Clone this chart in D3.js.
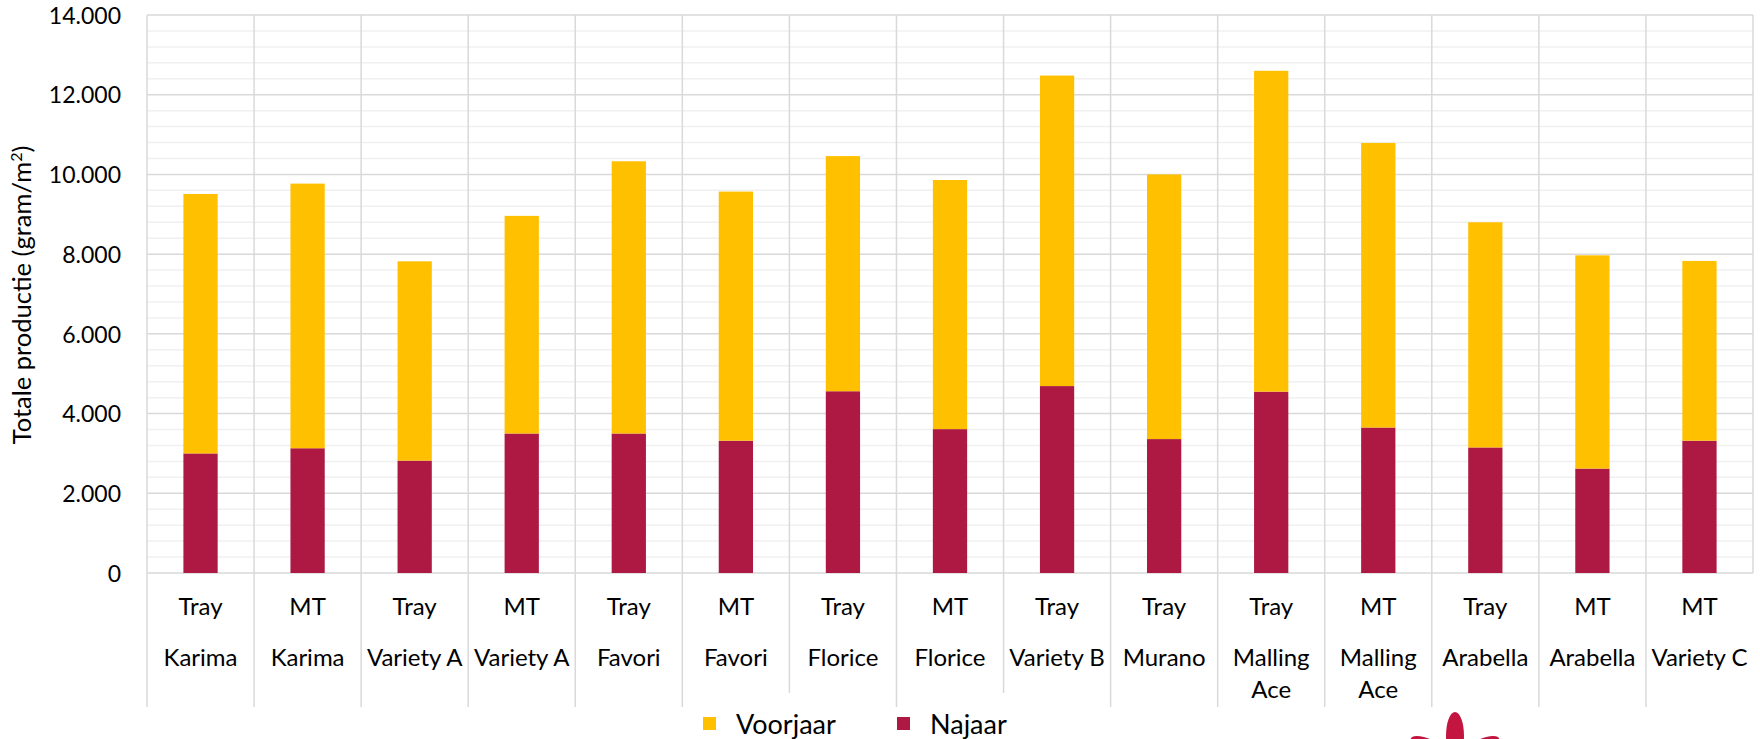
<!DOCTYPE html>
<meta charset="utf-8">
<style>
body { margin: 0; background: #fff; }
svg text { font-family: 'Lato', 'Noto Sans', sans-serif; fill: #000; }
</style>
<svg id="chart" width="1760" height="739"></svg>
<script src="https://cdn.jsdelivr.net/npm/d3@7"></script>
<script>

// data
var methods   = ["Tray", "MT", "Tray", "MT", "Tray", "MT", "Tray", "MT", "Tray", "Tray", "Tray", "MT", "Tray", "MT", "MT"];
var varieties = ["Karima", "Karima", "Variety A", "Variety A", "Favori", "Favori", "Florice", "Florice",
                 "Variety B", "Murano", "Malling Ace", "Malling Ace", "Arabella", "Arabella", "Variety C"];
var najaar    = [3000, 3130, 2820, 3500, 3500, 3320, 4560, 3610, 4690, 3360, 4550, 3650, 3150, 2620, 3320];
var totaal    = [9510, 9770, 7820, 8960, 10330, 9570, 10460, 9860, 12480, 10000, 12600, 10790, 8800, 7970, 7830];
var voorjaar  = totaal.map(function(t, i) { return t - najaar[i]; });
var yTicks    = [0, 2000, 4000, 6000, 8000, 10000, 12000, 14000];
var seriesNames = ["Voorjaar", "Najaar"];

var colors = { Voorjaar: "#ffc000", Najaar: "#ad1942" };

var svg = d3.select("#chart");
var margin = {top: 15, right: 7, bottom: 166, left: 147},
    width = 1760 - margin.left - margin.right,
    height = 739 - margin.top - margin.bottom;

var g = svg.append("g").attr("transform", "translate(" + margin.left + "," + margin.top + ")");

var idx = d3.range(methods.length);
var x = d3.scaleBand().domain(idx).range([0, width]).paddingInner(0).paddingOuter(0);
var y = d3.scaleLinear().domain([0, 14000]).range([height, 0]);

// minor gridlines every 400
g.append("g").selectAll("line")
  .data(d3.range(400, 14000, 400).filter(function(v) { return v % 2000 !== 0; }))
  .enter().append("line")
    .attr("x1", 0).attr("x2", width)
    .attr("y1", function(d) { return y(d); }).attr("y2", function(d) { return y(d); })
    .attr("stroke", "#f0f0f0").attr("stroke-width", 1.5);

// major gridlines
g.append("g").selectAll("line")
  .data(yTicks)
  .enter().append("line")
    .attr("x1", 0).attr("x2", width)
    .attr("y1", function(d) { return y(d); }).attr("y2", function(d) { return y(d); })
    .attr("stroke", "#d9d9d9").attr("stroke-width", 1.5);

// vertical category separators, running down through the label area
var shortLines = [6, 8];
g.append("g").selectAll("line")
  .data(d3.range(methods.length + 1))
  .enter().append("line")
    .attr("x1", function(d) { return d < methods.length ? x(d) : width; })
    .attr("x2", function(d) { return d < methods.length ? x(d) : width; })
    .attr("y1", 0)
    .attr("y2", function(d) {
      if (d === methods.length) return height;
      return shortLines.indexOf(d) >= 0 ? height + 120 : height + 134;
    })
    .attr("stroke", "#d9d9d9").attr("stroke-width", 1.5);

// stacked bars
var rows = idx.map(function(i) { return {i: i, Najaar: najaar[i], Voorjaar: voorjaar[i]}; });
var stack = d3.stack().keys(["Najaar", "Voorjaar"]);
var bw = x.bandwidth() * 0.32;

g.append("g").selectAll("g")
  .data(stack(rows))
  .enter().append("g")
    .attr("fill", function(s) { return colors[s.key]; })
  .selectAll("rect")
  .data(function(s) { return s; })
  .enter().append("rect")
    .attr("x", function(d) { return x(d.data.i) + (x.bandwidth() - bw) / 2; })
    .attr("width", bw)
    .attr("y", function(d) { return y(d[1]); })
    .attr("height", function(d) { return y(d[0]) - y(d[1]); });

// y axis
var yAxis = g.append("g")
  .call(d3.axisLeft(y).tickValues(yTicks).tickSize(0).tickPadding(26)
    .tickFormat(function(d) { return d3.format(",")(d).replace(/,/g, "."); }));
yAxis.select(".domain").remove();
yAxis.selectAll("text").style("font-size", "23px").attr("dy", "0.36em");

// category labels, two levels
var labels = g.append("g").attr("transform", "translate(0," + height + ")");
labels.selectAll("text.method")
  .data(idx)
  .enter().append("text")
    .attr("class", "method")
    .attr("x", function(i) { return x(i) + x.bandwidth() / 2; })
    .attr("y", 42)
    .attr("text-anchor", "middle")
    .style("font-size", "24px")
    .text(function(i) { return methods[i]; });

labels.selectAll("text.variety")
  .data(idx)
  .enter().append("text")
    .attr("class", "variety")
    .attr("x", function(i) { return x(i) + x.bandwidth() / 2; })
    .attr("y", 93)
    .attr("text-anchor", "middle")
    .style("font-size", "24px")
    .text(function(i) { return varieties[i]; })
    .each(function(i) {
      var t = d3.select(this);
      if (this.getComputedTextLength() > x.bandwidth() - 4) {
        var words = varieties[i].split(" ");
        var cx = t.attr("x");
        t.text(null);
        words.forEach(function(w, k) {
          t.append("tspan").attr("x", cx).attr("dy", k === 0 ? 0 : 32).text(w);
        });
      }
    });

// y axis title
svg.append("text")
  .attr("transform", "translate(31,295) rotate(-90)")
  .attr("text-anchor", "middle")
  .style("font-size", "25.5px")
  .text("Totale productie (gram/m")
  .append("tspan").attr("baseline-shift", "super").style("font-size", "16px").text("2")
  .select(function() { return this.parentNode; })
  .append("tspan").text(")");

// legend
var legend = svg.append("g").attr("transform", "translate(703,724)");
var legendX = [0, 194];
seriesNames.forEach(function(name, k) {
  var lg = legend.append("g").attr("transform", "translate(" + legendX[k] + ",0)");
  lg.append("rect").attr("x", 0).attr("y", -7).attr("width", 13).attr("height", 13)
    .attr("fill", colors[name]);
  lg.append("text").attr("x", 33).attr("y", 0).attr("dy", "0.36em")
    .style("font-size", "27px").text(name);
});

// logo fragment in the corner
var logo = svg.append("g").attr("transform", "translate(1455,762)").attr("fill", "#c3153f");
[-62, 0, 62].forEach(function(a) {
  logo.append("ellipse").attr("cx", 0).attr("cy", -26).attr("rx", 9).attr("ry", 24)
    .attr("transform", "rotate(" + a + ")");
});

</script>
